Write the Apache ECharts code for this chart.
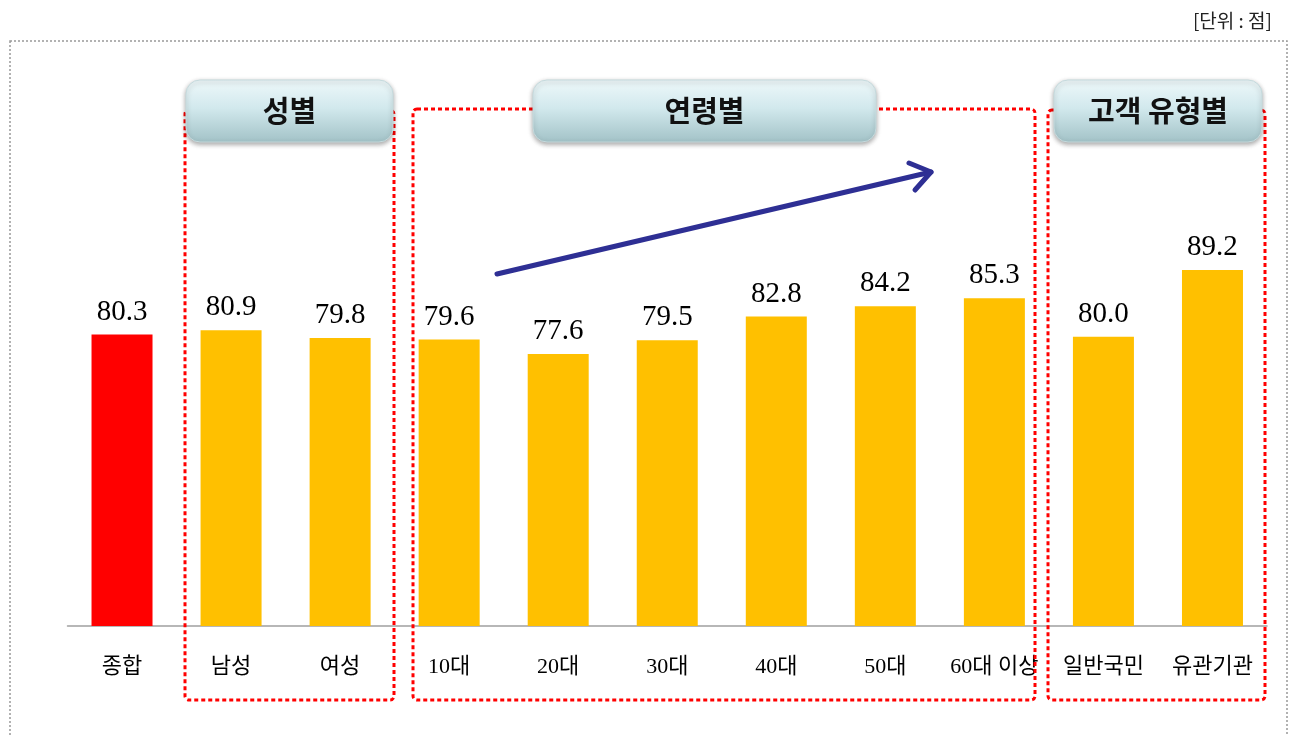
<!DOCTYPE html>
<html>
<head>
<meta charset="utf-8">
<script src="https://cdn.jsdelivr.net/npm/echarts@6/dist/echarts.min.js"></script>
<style>
  html, body { margin: 0; padding: 0; background: #fff; }
  #chart { width: 1291px; height: 735px; }
</style>
</head>
<body>
<div id="chart"></div>
<script>
var categories = ['종합', '남성', '여성', '10대', '20대', '30대', '40대', '50대', '60대 이상', '일반국민', '유관기관'];
var scores = [80.3, 80.9, 79.8, 79.6, 77.6, 79.5, 82.8, 84.2, 85.3, 80.0, 89.2];
var groupTitles = ['성별', '연령별', '고객 유형별'];
var unitText = '[단위 : 점]';

var chartDom = document.getElementById('chart');
var chart = echarts.init(chartDom);

var btnFill = new echarts.graphic.LinearGradient(0, 0, 0, 1, [
  { offset: 0, color: '#eef8fa' },
  { offset: 0.45, color: '#d2e9ed' },
  { offset: 1, color: '#a2c2c7' }
]);

// rounded title buttons sit on top of the dotted red boxes
function button(x, y, w, h, text) {
  return {
    type: 'group', x: x, y: y,
    children: [{
      type: 'rect', z: 30,
      shape: { x: 0, y: 0, width: w, height: h, r: 14 },
      style: {
        fill: btnFill, stroke: '#c5dadd', lineWidth: 1,
        shadowBlur: 5, shadowColor: 'rgba(0,0,0,0.35)', shadowOffsetY: 2
      }
    }, {
      type: 'text', z: 31,
      x: w / 2, y: h / 2,
      style: {
        text: text, align: 'center', verticalAlign: 'middle',
        font: 'bold 29px "Noto Sans CJK KR"', fill: '#111'
      }
    }]
  };
}

function redBox(x1, y1, x2, y2) {
  return {
    type: 'rect', z: 10,
    shape: { x: x1, y: y1, width: x2 - x1, height: y2 - y1, r: 4 },
    style: { fill: 'none', stroke: '#ff0000', lineWidth: 3, lineDash: [4, 3] }
  };
}

var option = {
  animation: false,
  grid: { left: 67.5, right: 24, top: 192, bottom: 109 },
  xAxis: {
    type: 'category',
    data: categories,
    axisLine: { lineStyle: { color: '#a0a0a0', width: 1.5 } },
    axisTick: { show: false },
    axisLabel: {
      interval: 0, margin: 30, color: '#000',
      fontSize: 22, fontFamily: '"Liberation Serif", "Noto Sans CJK KR"'
    }
  },
  yAxis: {
    type: 'value', min: 40, max: 100, show: false,
    splitLine: { show: false }
  },
  series: [{
    type: 'bar',
    barWidth: 61,
    data: scores.map(function (v, i) {
      return { value: v, itemStyle: { color: i === 0 ? '#ff0000' : '#ffc000' } };
    }),
    label: {
      show: true, position: 'top', distance: 8, color: '#000',
      fontSize: 29, fontFamily: '"Liberation Serif"',
      formatter: function (p) { return p.value.toFixed(1); }
    }
  }],
  graphic: [
    {
      type: 'rect', z: 1,
      shape: { x: 10, y: 41, width: 1277, height: 740 },
      style: { fill: 'none', stroke: '#999', lineWidth: 1.5, lineDash: [2, 2] }
    },
    {
      type: 'text', x: 1272, y: 21, z: 5,
      style: {
        text: unitText, align: 'right', verticalAlign: 'middle',
        font: '19px "Noto Sans CJK KR"', fill: '#222'
      }
    },
    redBox(185, 110, 394, 700),
    redBox(413, 109, 1035, 700),
    redBox(1048, 110, 1265, 700),
    button(186, 80, 207, 62, groupTitles[0]),
    button(533, 80, 343, 62, groupTitles[1]),
    button(1054, 80, 208, 62, groupTitles[2]),
    {
      type: 'polyline', z: 15,
      shape: { points: [[497, 274], [931, 172]] },
      style: { stroke: '#2e2f94', lineWidth: 5, lineCap: 'round', fill: 'none' }
    },
    {
      type: 'polyline', z: 15,
      shape: { points: [[909, 163], [931, 172], [915, 190]] },
      style: { stroke: '#2e2f94', lineWidth: 5, lineCap: 'round', lineJoin: 'round', fill: 'none' }
    }
  ]
};

option && chart.setOption(option);
</script>
</body>
</html>
